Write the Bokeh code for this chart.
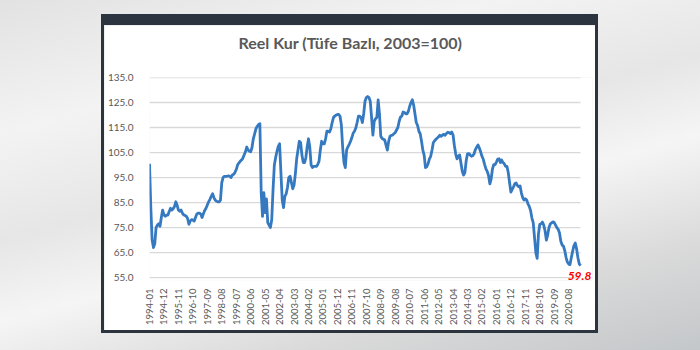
from bokeh.plotting import figure
from bokeh.models import (ColumnDataSource, FixedTicker, NumeralTickFormatter, Label,
                          Range1d, Div, Spacer, Title)
from bokeh.layouts import row, column
from bokeh.embed import file_html
from bokeh.resources import INLINE

title_text = "Reel Kur (Tüfe Bazlı, 2003=100)"

v1994 = [100.5, 83, 70, 67, 68.5, 75, 76, 76.5, 75.5, 79, 82, 80]
v1995 = [79.5, 80, 80, 81.4, 82.7, 82, 82.5, 83.4, 85.3, 84, 82, 81.5]
v1996 = [82, 80.8, 80.1, 79.8, 79.5, 78.6, 76.3, 77.6, 78.2, 78, 77.6, 79]
v1997 = [80.4, 80.8, 80.8, 80.4, 79, 80.5, 81.8, 82.7, 84, 85.3, 86.3, 87.5]
v1998 = [88.5, 87, 86, 85.5, 85.3, 85.3, 86, 93, 95, 95.5, 95.5, 95.5]
v1999 = [95.7, 95.5, 95, 96, 96.3, 97, 98.2, 100, 100.8, 101.5, 102, 102.7]
v2000 = [104, 105.3, 107.2, 106, 105.5, 105.3, 107, 110.5, 112.5, 114.5, 115.5, 116.2]
v2001 = [116.5, 89, 79.5, 89, 81, 86.5, 77, 76, 75, 78, 90, 100]
v2002 = [103, 105.5, 107.5, 108.5, 97, 86, 83, 87.5, 88.5, 91, 95, 95.5]
v2003 = [93, 90.5, 92, 96.5, 102.5, 106, 109.5, 109, 104, 101, 101, 103]
v2004 = [107.3, 110.5, 107, 100, 99, 99.5, 99.5, 99.5, 100.2, 101.5, 106, 109.5]
v2005 = [108.5, 108.5, 110.5, 113.5, 113.5, 113.2, 114.5, 117, 119, 119.6, 120, 120.2]
v2006 = [120.2, 119.5, 116, 107, 101, 99, 106, 107.3, 108.3, 109.5, 111, 112.8]
v2007 = [113.5, 114.8, 117, 119.5, 119.5, 119, 117, 120.5, 125.5, 127, 127.4, 127]
v2008 = [125.5, 119, 112, 117.5, 118.5, 119, 126, 120.5, 111.5, 110.6, 110.3, 110]
v2009 = [108, 106, 109.5, 111.5, 111.9, 112, 112.5, 113, 114, 115, 117.5, 119.2]
v2010 = [119.6, 121.2, 121, 120.5, 120.5, 121.5, 123.5, 125, 126.1, 124, 120.5, 117]
v2011 = [115.8, 113.5, 112.5, 109.5, 106, 104, 99, 99.3, 100.5, 102.5, 103.5, 106]
v2012 = [109, 109.7, 110.3, 110.8, 111.3, 111.9, 111.5, 112, 112.3, 111.9, 112.6, 113.1]
v2013 = [113, 112.6, 113.2, 112, 107.8, 104.5, 102.5, 103.5, 104, 100.8, 97.5, 96]
v2014 = [97, 101.8, 104.5, 104.6, 104, 103.5, 103.7, 104.5, 106.2, 107.2, 108, 106.8]
v2015 = [105.3, 103.5, 102.3, 100.3, 98.5, 97.5, 95.8, 92.5, 94.5, 98.5, 100.2, 100.2]
v2016 = [101.2, 102.4, 102.5, 101, 102, 101, 100.5, 99.5, 99.5, 97, 93, 89.2]
v2017 = [90.3, 91.3, 92.5, 92.8, 91.8, 91.3, 91.6, 88.8, 87, 86, 86.5, 86]
v2018 = [84.5, 83.5, 81.8, 78.8, 77, 71, 65, 62.7, 72.5, 76.3, 76.5, 77.2]
v2019 = [76, 73.7, 70, 72, 75, 76.4, 76.9, 77.3, 77, 76, 75, 74.3]
v2020 = [72.8, 69.5, 68, 67.6, 65.8, 63, 61.2, 60.4, 60.2, 63, 65.5, 67.8]
v2021 = [68.8, 66.5, 63, 60.5, 59.8]

values = (v1994 + v1995 + v1996 + v1997 + v1998 + v1999 + v2000 + v2001 + v2002 + v2003 +
          v2004 + v2005 + v2006 + v2007 + v2008 + v2009 + v2010 + v2011 + v2012 + v2013 +
          v2014 + v2015 + v2016 + v2017 + v2018 + v2019 + v2020 + v2021)

tick_labels = ["1994-01", "1994-12", "1995-11", "1996-10", "1997-09", "1998-08", "1999-07",
               "2000-06", "2001-05", "2002-04", "2003-03", "2004-02", "2005-01", "2005-12",
               "2006-11", "2007-10", "2008-09", "2009-08", "2010-07", "2011-06", "2012-05",
               "2013-04", "2014-03", "2015-02", "2016-01", "2016-12", "2017-11", "2018-10",
               "2019-09", "2020-08"]
y_ticks = [55, 65, 75, 85, 95, 105, 115, 125, 135]
last_label = "59.8"

n = len(values)
idx = list(range(n))
src = ColumnDataSource(dict(x=idx, y=values))

FONT = "Lato"
GRAY = "#595959"

x_end = (n - 1) * 444.0 / 432.0
y_start = 55 - 3.0 * 80.0 / 206.0
p = figure(width=491, height=305, output_backend="svg", toolbar_location=None,
           x_range=Range1d(0, x_end), y_range=Range1d(y_start, 135),
           min_border_left=44, min_border_right=3, min_border_top=46, min_border_bottom=50,
           background_fill_color="white", border_fill_color="white",
           outline_line_color=None, title=title_text)

p.title.align = "left"
p.title.offset = 89
p.title.text_font = FONT
p.title.text_font_size = "16px"
p.title.text_font_style = "bold"
p.title.text_color = GRAY

# blank spacer title between the frame and the real title, lifting the title up
p.add_layout(Title(text=" ", text_font_size="8px"), "above")

p.segment(x0=[0] * len(y_ticks), x1=[n - 1] * len(y_ticks), y0=y_ticks, y1=y_ticks,
          line_color="#d9d9d9", line_width=1.3)

p.line("x", "y", source=src, line_color="#3579c1", line_width=2.8, line_join="round")

tick_pos = [11 * k for k in range(len(tick_labels))]
p.xaxis.ticker = FixedTicker(ticks=tick_pos)
p.xaxis.major_label_overrides = {t: lab for t, lab in zip(tick_pos, tick_labels)}
p.xaxis.major_label_orientation = 1.5707963
p.xaxis.axis_line_color = None
p.xaxis.major_tick_line_color = None
p.xaxis.minor_tick_line_color = None
p.xaxis.major_label_text_font = FONT
p.xaxis.major_label_text_font_size = "9.5px"
p.xaxis.major_label_text_color = GRAY
p.xaxis.major_label_standoff = 2

p.yaxis.ticker = FixedTicker(ticks=y_ticks)
p.yaxis.formatter = NumeralTickFormatter(format="0.0")
p.yaxis.axis_line_color = None
p.yaxis.major_tick_line_color = None
p.yaxis.minor_tick_line_color = None
p.yaxis.major_label_text_font = FONT
p.yaxis.major_label_text_font_size = "10px"
p.yaxis.major_label_text_color = GRAY
p.yaxis.major_label_standoff = 10

p.xgrid.grid_line_color = None
p.ygrid.grid_line_color = None

p.add_layout(Label(x=n - 1, y=values[-1], text=last_label, text_color="#ff0000",
                   text_font=FONT, text_font_size="12px", text_font_style="bold italic",
                   text_align="center", text_baseline="top", x_offset=-1, y_offset=-6))

DARK = "#2c3440"
top_bar = Div(width=497, height=11, margin=0, styles={"background-color": DARK})
left_bar = Div(width=3, height=305, margin=0, styles={"background-color": DARK})
right_bar = Div(width=3, height=305, margin=0, styles={"background-color": DARK})
bottom_bar = Div(width=497, height=3, margin=0, styles={"background-color": DARK})
card = column(top_bar, row(left_bar, p, right_bar, spacing=0), bottom_bar, spacing=0)

bg = ("linear-gradient(165deg, #e2e2e2 0%, #f3f3f3 25%, #e6e6e6 45%, #f5f5f5 60%, "
      "#dadada 80%, #c4c7ca 100%)")
page = row(Spacer(width=101, height=350),
           column(Spacer(width=497, height=14), card, Spacer(width=497, height=17), spacing=0),
           Spacer(width=102, height=350),
           width=700, height=350, spacing=0, styles={"background": bg})

open("out.html", "w").write(file_html(page, INLINE))
